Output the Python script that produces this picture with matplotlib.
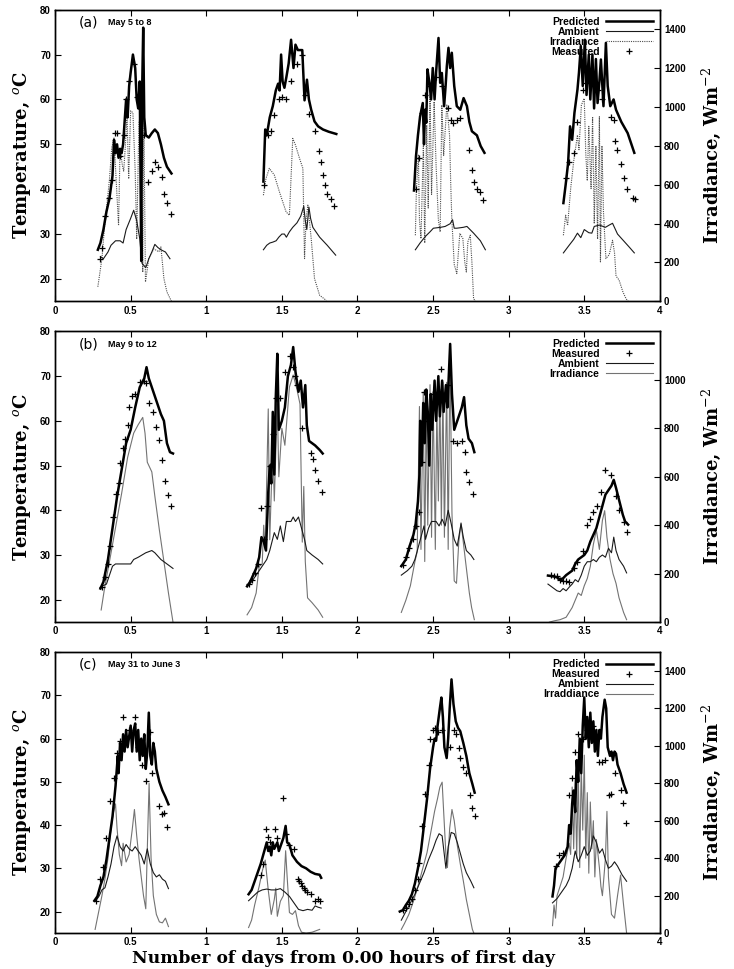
import numpy as np
import matplotlib.pyplot as plt

plt.rcParams['mathtext.fontset'] = 'dejavuserif'

# ---------------- panel (a) May 5 to 8 ----------------
a_pred = [
    [(0.283, 26.5), (0.30, 28), (0.32, 31), (0.34, 35), (0.36, 38), (0.38, 43), (0.39, 51), (0.40, 48),
     (0.41, 50), (0.42, 47), (0.43, 49), (0.44, 48), (0.45, 50), (0.46, 55), (0.47, 60), (0.48, 56),
     (0.49, 63), (0.50, 66), (0.515, 70), (0.53, 67), (0.54, 60), (0.55, 58), (0.56, 64), (0.57, 24),
     (0.575, 60), (0.583, 76), (0.59, 56), (0.60, 52), (0.62, 51.5), (0.64, 52.5), (0.66, 53.3),
     (0.68, 52.5), (0.70, 50), (0.72, 47), (0.74, 45), (0.77, 43.5)],
    [(1.378, 41.7), (1.39, 53.3), (1.40, 52), (1.42, 56), (1.44, 58.5), (1.46, 62), (1.475, 63.5),
     (1.485, 62), (1.495, 70), (1.505, 64), (1.517, 62.6), (1.53, 65), (1.545, 68), (1.561, 73.3),
     (1.577, 67), (1.59, 72.2), (1.606, 71), (1.62, 71), (1.635, 71), (1.65, 59.8), (1.666, 64.4),
     (1.679, 60), (1.694, 57.7), (1.716, 55.1), (1.74, 54), (1.772, 53.3), (1.81, 52.8), (1.86, 52.3)],
    [(2.374, 39.7), (2.387, 47.3), (2.40, 52), (2.414, 56.2), (2.432, 59.2), (2.44, 50), (2.447, 57.7),
     (2.455, 54.8), (2.463, 66.7), (2.476, 63.7), (2.487, 60), (2.498, 67), (2.51, 60), (2.52, 66),
     (2.536, 73.7), (2.547, 63.7), (2.558, 65.9), (2.573, 58.5), (2.583, 63), (2.591, 67.4),
     (2.602, 71.5), (2.613, 67), (2.624, 70.4), (2.64, 63), (2.657, 58.5), (2.68, 57.7), (2.702, 60.3),
     (2.724, 58.5), (2.74, 55), (2.757, 52.9), (2.79, 52), (2.815, 49.6), (2.84, 48.1)],
    [(3.362, 36.9), (3.377, 41), (3.393, 45.8), (3.406, 54), (3.42, 51), (3.435, 57), (3.455, 62.2),
     (3.465, 66), (3.477, 71.9), (3.49, 63), (3.504, 73.3), (3.515, 61), (3.53, 70), (3.54, 60),
     (3.554, 70), (3.565, 58), (3.577, 69), (3.588, 59.2), (3.60, 64), (3.61, 68.9), (3.627, 58.5),
     (3.643, 72.6), (3.655, 63), (3.672, 58.5), (3.694, 60), (3.71, 57.7), (3.745, 55), (3.787, 52.5),
     (3.831, 48.1)],
]
a_amb = [
    [(0.30, 25.0), (0.32, 24.5), (0.35, 26), (0.37, 27.5), (0.40, 28.5), (0.43, 28.5), (0.45, 28),
     (0.47, 31), (0.50, 33.5), (0.52, 35.3), (0.54, 33), (0.56, 29), (0.575, 23.5), (0.60, 22.5),
     (0.62, 24.5), (0.64, 26), (0.66, 27.7), (0.68, 27), (0.70, 26.5), (0.73, 26), (0.76, 24.5)],
    [(1.378, 26.5), (1.40, 27.5), (1.42, 28), (1.44, 28.2), (1.462, 28.5), (1.48, 29.3), (1.50, 30),
     (1.517, 30), (1.53, 29.3), (1.55, 30.5), (1.572, 31.5), (1.60, 32.5), (1.625, 34), (1.645, 36.2),
     (1.655, 33), (1.665, 31), (1.679, 36), (1.69, 33.5), (1.705, 31.5), (1.75, 29.3), (1.80, 27.5),
     (1.856, 25.3)],
    [(2.383, 26.5), (2.414, 28), (2.45, 29.5), (2.48, 30.5), (2.502, 31.3), (2.55, 31.5), (2.58, 31.7),
     (2.613, 32.3), (2.629, 33.2), (2.64, 31.3), (2.657, 31.3), (2.70, 31.5), (2.724, 31.7),
     (2.768, 30.2), (2.813, 28.5), (2.846, 26.5)],
    [(3.362, 25.8), (3.40, 27.5), (3.43, 28.8), (3.455, 30.2), (3.477, 29.2), (3.50, 31), (3.53, 30.3),
     (3.55, 30.2), (3.566, 31.7), (3.60, 32), (3.64, 31.5), (3.665, 32), (3.687, 32.4), (3.72, 30),
     (3.76, 28.5), (3.80, 27), (3.831, 25.8)],
]
a_irr = [
    [(0.283, 75), (0.31, 220), (0.328, 390), (0.343, 495), (0.36, 630), (0.375, 790), (0.39, 840),
     (0.40, 685), (0.42, 390), (0.43, 790), (0.445, 700), (0.454, 670), (0.465, 800), (0.476, 960),
     (0.487, 630), (0.50, 980), (0.515, 970), (0.53, 670), (0.54, 320), (0.555, 920), (0.565, 960),
     (0.572, 600), (0.58, 150), (0.587, 960), (0.598, 100), (0.62, 220), (0.653, 270), (0.687, 255),
     (0.70, 280), (0.72, 117), (0.74, 48), (0.77, 0)],
    [(1.378, 546), (1.395, 632), (1.417, 684), (1.45, 650), (1.484, 563), (1.528, 460), (1.55, 443),
     (1.572, 838), (1.59, 804), (1.617, 735), (1.639, 684), (1.65, 220), (1.66, 420), (1.672, 495),
     (1.694, 323), (1.716, 117), (1.75, 31), (1.794, 5)],
    [(2.383, 340), (2.39, 580), (2.403, 752), (2.41, 420), (2.42, 323), (2.436, 804), (2.445, 300),
     (2.458, 907), (2.468, 480), (2.48, 1062), (2.49, 550), (2.507, 1027), (2.52, 700), (2.535, 420),
     (2.547, 357), (2.558, 1010), (2.57, 750), (2.591, 1010), (2.609, 855), (2.617, 600), (2.624, 426),
     (2.64, 190), (2.657, 143), (2.677, 350), (2.697, 323), (2.71, 200), (2.72, 151), (2.73, 306),
     (2.746, 340), (2.757, 200), (2.768, 14), (2.78, 0)],
    [(3.362, 340), (3.377, 443), (3.39, 390), (3.41, 580), (3.43, 720), (3.455, 855), (3.465, 780),
     (3.481, 1010), (3.50, 1044), (3.51, 760), (3.52, 620), (3.53, 900), (3.545, 580), (3.555, 950),
     (3.566, 400), (3.577, 800), (3.588, 320), (3.60, 950), (3.607, 203), (3.617, 800), (3.627, 460),
     (3.643, 220), (3.665, 240), (3.687, 314), (3.70, 250), (3.71, 130), (3.73, 110), (3.755, 50),
     (3.776, 14), (3.79, 0)],
]
a_meas = [
    [(0.297, 24.5), (0.31, 27), (0.328, 34), (0.354, 38), (0.377, 42), (0.394, 52.6), (0.41, 52.6),
     (0.43, 47.3), (0.455, 52), (0.47, 60), (0.49, 64), (0.52, 68), (0.545, 60.5), (0.59, 52),
     (0.613, 41.5), (0.64, 44), (0.66, 46), (0.68, 44.9), (0.706, 42.7), (0.72, 39), (0.743, 36.9),
     (0.77, 34.4)],
    [(1.385, 41), (1.41, 52), (1.43, 53), (1.445, 56.5), (1.48, 60), (1.50, 60.5), (1.53, 60),
     (1.558, 64), (1.60, 68), (1.636, 70), (1.655, 61), (1.68, 56.8), (1.72, 53), (1.745, 48.6),
     (1.757, 46), (1.77, 43.2), (1.785, 41), (1.80, 39), (1.822, 37.7), (1.847, 36.2)],
    [(2.39, 40), (2.405, 47), (2.425, 57), (2.45, 61), (2.48, 63), (2.52, 65), (2.56, 63), (2.60, 58),
     (2.62, 55.5), (2.635, 54.8), (2.66, 55.5), (2.68, 55.8), (2.735, 48.8), (2.757, 44.3),
     (2.773, 41.7), (2.79, 40), (2.81, 39.3), (2.83, 37.6)],
    [(3.38, 42.6), (3.40, 46), (3.43, 48), (3.45, 55), (3.49, 62), (3.51, 63.6), (3.55, 64), (3.59, 62),
     (3.62, 60), (3.676, 56), (3.694, 55.5), (3.703, 50.7), (3.716, 48.8), (3.743, 45.6),
     (3.765, 42.6), (3.783, 40), (3.82, 38), (3.836, 37.8)],
]

# ---------------- panel (b) May 9 to 12 ----------------
b_pred = [
    [(0.30, 22.5), (0.32, 24), (0.35, 29), (0.38, 36), (0.41, 43), (0.44, 49), (0.47, 55), (0.50, 58),
     (0.53, 63), (0.56, 67.5), (0.59, 69.5), (0.605, 72), (0.62, 69.5), (0.65, 66.5), (0.68, 63.5),
     (0.70, 61.5), (0.72, 60), (0.74, 55), (0.76, 53), (0.78, 52.7)],
    [(1.27, 23), (1.29, 24), (1.31, 25.5), (1.33, 27), (1.35, 29.5), (1.365, 34), (1.38, 33),
     (1.395, 31), (1.41, 44), (1.42, 50), (1.43, 46), (1.44, 62), (1.45, 48), (1.46, 65.5), (1.47, 75),
     (1.48, 58), (1.50, 60), (1.52, 63), (1.54, 70), (1.56, 72.5), (1.575, 76.5), (1.59, 71),
     (1.61, 66.5), (1.625, 69), (1.64, 63), (1.655, 68), (1.665, 59), (1.68, 55.5), (1.70, 55),
     (1.72, 54.5), (1.75, 53.5), (1.77, 52.7)],
    [(2.29, 27.5), (2.32, 29), (2.345, 32), (2.37, 34.5), (2.385, 37), (2.40, 42), (2.41, 48),
     (2.415, 60), (2.425, 50), (2.435, 64), (2.445, 55), (2.455, 67), (2.465, 62), (2.475, 50),
     (2.485, 66), (2.495, 58), (2.51, 69), (2.52, 60), (2.535, 70), (2.545, 61), (2.56, 69),
     (2.57, 62), (2.585, 68), (2.595, 63), (2.613, 77.2), (2.625, 66), (2.64, 58), (2.66, 60),
     (2.69, 63), (2.705, 65.3), (2.72, 59), (2.735, 56), (2.757, 55), (2.773, 53)],
    [(3.26, 25.4), (3.28, 25.3), (3.30, 25.2), (3.32, 25), (3.34, 24.5), (3.36, 24.8), (3.38, 25.5),
     (3.40, 26), (3.42, 26.5), (3.44, 28), (3.46, 29), (3.48, 29.5), (3.50, 30), (3.52, 31),
     (3.54, 33), (3.56, 34.5), (3.58, 36), (3.60, 38.5), (3.62, 41), (3.64, 43.5), (3.66, 44.5),
     (3.68, 45.5), (3.695, 46.8), (3.71, 45), (3.725, 43), (3.74, 41), (3.755, 39), (3.77, 37.5),
     (3.79, 36.8)],
]
b_amb = [
    [(0.31, 23), (0.34, 23.5), (0.36, 25.5), (0.38, 27.5), (0.40, 28), (0.45, 28), (0.50, 28),
     (0.52, 29), (0.55, 29.5), (0.60, 30.5), (0.64, 31), (0.66, 30.5), (0.70, 29), (0.74, 28),
     (0.78, 27)],
    [(1.27, 23), (1.30, 24), (1.33, 25.5), (1.35, 26.5), (1.38, 28), (1.40, 29), (1.42, 31), (1.45, 35),
     (1.47, 33.5), (1.49, 36.5), (1.51, 33), (1.53, 37.5), (1.56, 37.5), (1.575, 38.5), (1.59, 37.5),
     (1.61, 38.5), (1.63, 36), (1.65, 33.5), (1.665, 31), (1.70, 30), (1.74, 29), (1.77, 28)],
    [(2.29, 25.5), (2.33, 26.5), (2.36, 27.5), (2.38, 29), (2.40, 31.5), (2.42, 34), (2.44, 36.5),
     (2.45, 33.5), (2.47, 36), (2.49, 37.5), (2.52, 37.5), (2.54, 36.5), (2.56, 38), (2.58, 36.5),
     (2.60, 40), (2.62, 37), (2.64, 33.5), (2.66, 32), (2.685, 37), (2.70, 34), (2.72, 31),
     (2.75, 30), (2.77, 29)],
    [(3.26, 23.5), (3.28, 23), (3.30, 22.5), (3.32, 22), (3.34, 21.8), (3.36, 22.5), (3.38, 22),
     (3.40, 22.8), (3.42, 23.5), (3.44, 24.5), (3.46, 24), (3.48, 25.5), (3.50, 27.5), (3.52, 28.5),
     (3.54, 28.5), (3.56, 29), (3.58, 28.5), (3.60, 29.5), (3.62, 30), (3.64, 29.5), (3.66, 31.5),
     (3.68, 30.5), (3.695, 34), (3.71, 31), (3.73, 29), (3.76, 27.5), (3.78, 26)],
]
b_irr = [
    [(0.305, 50), (0.33, 150), (0.36, 250), (0.40, 390), (0.44, 530), (0.48, 680), (0.52, 780),
     (0.55, 815), (0.58, 845), (0.595, 780), (0.61, 660), (0.625, 640), (0.64, 620), (0.66, 520),
     (0.69, 380), (0.72, 250), (0.75, 120), (0.78, 0)],
    [(1.27, 30), (1.30, 60), (1.33, 120), (1.35, 230), (1.37, 240), (1.38, 400), (1.39, 300),
     (1.41, 880), (1.42, 340), (1.44, 740), (1.45, 500), (1.47, 900), (1.48, 600), (1.50, 800),
     (1.52, 730), (1.55, 970), (1.575, 1020), (1.60, 960), (1.62, 900), (1.635, 330), (1.645, 560),
     (1.655, 250), (1.67, 100), (1.70, 80), (1.74, 50), (1.77, 20)],
    [(2.29, 40), (2.32, 90), (2.35, 150), (2.38, 250), (2.395, 290), (2.41, 890), (2.42, 300),
     (2.435, 950), (2.445, 250), (2.455, 920), (2.465, 400), (2.48, 980), (2.49, 350), (2.50, 950),
     (2.515, 300), (2.525, 900), (2.535, 500), (2.545, 960), (2.555, 400), (2.565, 990), (2.575, 350),
     (2.59, 990), (2.60, 300), (2.612, 1110), (2.625, 450), (2.64, 170), (2.655, 160), (2.67, 330),
     (2.685, 410), (2.70, 330), (2.715, 250), (2.74, 120), (2.755, 60), (2.773, 10)],
    [(3.27, 0), (3.30, 5), (3.34, 10), (3.38, 20), (3.42, 60), (3.44, 90), (3.46, 120), (3.48, 110),
     (3.50, 150), (3.52, 180), (3.54, 230), (3.56, 320), (3.58, 380), (3.60, 300), (3.62, 420),
     (3.635, 460), (3.65, 350), (3.67, 260), (3.69, 200), (3.71, 160), (3.73, 100), (3.76, 40),
     (3.78, 10)],
]
b_meas = [
    [(0.31, 22.8), (0.33, 25), (0.35, 28), (0.365, 32), (0.38, 38.4), (0.40, 43.7), (0.42, 46),
     (0.43, 50.5), (0.45, 54), (0.465, 56), (0.48, 59), (0.49, 63), (0.51, 65.5), (0.53, 66),
     (0.56, 68.7), (0.585, 69), (0.60, 68.5), (0.62, 64), (0.645, 62), (0.67, 58.7), (0.69, 55.8),
     (0.71, 51.2), (0.73, 46.6), (0.75, 43.5), (0.77, 41)],
    [(1.28, 23.5), (1.30, 24.5), (1.32, 26), (1.34, 28), (1.363, 40.5), (1.38, 33.5), (1.40, 41),
     (1.42, 50), (1.44, 57), (1.46, 65), (1.485, 65), (1.52, 71), (1.555, 74.5), (1.575, 72),
     (1.59, 70), (1.60, 68), (1.63, 58.5), (1.69, 52.8), (1.705, 51.5), (1.72, 48.9), (1.738, 46.5),
     (1.765, 44.2)],
    [(2.30, 27.7), (2.32, 29.5), (2.34, 31.5), (2.365, 33.6), (2.39, 36.5), (2.41, 39.6), (2.425, 50.8),
     (2.44, 66.5), (2.465, 60), (2.50, 66), (2.55, 71.5), (2.60, 68), (2.635, 55.5), (2.66, 55),
     (2.69, 55.6), (2.71, 53), (2.72, 48.5), (2.735, 46.3), (2.762, 43.7)],
    [(3.28, 25.5), (3.30, 25.3), (3.32, 25.2), (3.34, 24.5), (3.36, 24.3), (3.38, 24.3), (3.40, 24),
     (3.43, 27), (3.455, 28.4), (3.49, 31), (3.52, 36.6), (3.54, 38), (3.56, 39.7), (3.585, 41),
     (3.61, 44), (3.635, 48.9), (3.68, 48), (3.71, 43.3), (3.73, 40), (3.76, 37.3), (3.785, 35.1)],
]

# ---------------- panel (c) May 31 to June 3 ----------------
c_pred = [
    [(0.26, 22.5), (0.28, 23.5), (0.30, 26), (0.32, 28), (0.34, 32), (0.36, 37), (0.38, 42), (0.40, 49),
     (0.415, 56), (0.42, 52), (0.43, 59), (0.44, 55), (0.45, 61), (0.46, 57), (0.47, 62), (0.48, 58),
     (0.50, 63), (0.51, 57), (0.52, 62), (0.53, 63.5), (0.54, 57), (0.55, 62), (0.56, 55), (0.57, 60),
     (0.58, 56), (0.59, 61), (0.60, 53), (0.61, 57), (0.62, 66), (0.63, 56), (0.64, 54), (0.65, 59),
     (0.66, 57), (0.67, 53), (0.69, 50), (0.71, 48), (0.73, 46.5), (0.75, 44.8)],
    [(1.28, 24), (1.30, 25), (1.32, 27), (1.34, 29), (1.36, 31), (1.38, 33.5), (1.40, 36), (1.41, 34),
     (1.42, 35), (1.43, 33), (1.44, 36), (1.45, 34.5), (1.47, 36), (1.48, 34), (1.50, 36), (1.51, 37),
     (1.525, 39.8), (1.535, 36), (1.55, 35.5), (1.57, 33), (1.60, 31.5), (1.63, 30.5), (1.66, 30),
     (1.69, 29.2), (1.72, 28.7), (1.75, 28.5), (1.76, 27.8)],
    [(2.28, 20), (2.30, 20.3), (2.32, 21.5), (2.34, 22.5), (2.36, 24), (2.38, 26.5), (2.40, 30),
     (2.42, 34), (2.44, 40), (2.46, 46), (2.48, 53), (2.50, 58), (2.51, 60), (2.52, 59.5), (2.53, 63),
     (2.545, 67), (2.555, 69.5), (2.565, 65), (2.575, 58), (2.59, 55.5), (2.60, 60), (2.61, 67),
     (2.622, 73.7), (2.635, 68), (2.65, 64), (2.665, 62.5), (2.68, 61.7), (2.70, 59), (2.72, 56),
     (2.74, 52), (2.76, 49.5), (2.775, 47.5)],
    [(3.29, 23.5), (3.30, 26), (3.31, 30), (3.33, 31), (3.35, 32), (3.37, 33), (3.39, 35), (3.40, 40),
     (3.41, 38), (3.42, 45), (3.43, 48), (3.44, 43), (3.45, 55), (3.46, 50), (3.47, 60), (3.48, 52),
     (3.49, 63), (3.50, 69.5), (3.51, 60), (3.52, 65), (3.53, 58), (3.54, 66), (3.55, 59), (3.56, 64),
     (3.57, 57), (3.58, 62), (3.59, 56), (3.60, 62), (3.61, 60), (3.62, 65), (3.635, 69), (3.645, 67),
     (3.655, 58), (3.67, 56), (3.68, 57), (3.69, 55), (3.70, 57), (3.71, 56.5), (3.72, 54),
     (3.74, 52), (3.76, 49.5), (3.78, 47.5)],
]
c_amb = [
    [(0.27, 22.5), (0.29, 23.5), (0.31, 25), (0.33, 25.5), (0.35, 28), (0.37, 31), (0.39, 35),
     (0.41, 37.5), (0.43, 35), (0.45, 34), (0.47, 35.5), (0.49, 34.5), (0.51, 34), (0.53, 35),
     (0.55, 34), (0.57, 33), (0.59, 31), (0.61, 34.5), (0.63, 31), (0.65, 29), (0.67, 28), (0.69, 28.5),
     (0.71, 27.5), (0.73, 27), (0.75, 25.3)],
    [(1.28, 22.5), (1.31, 23.5), (1.34, 24.5), (1.37, 25), (1.40, 25.2), (1.43, 25), (1.46, 25),
     (1.49, 25.3), (1.52, 24.5), (1.55, 23.5), (1.58, 22), (1.61, 20.5), (1.64, 20.2), (1.67, 20.5),
     (1.70, 20.3), (1.72, 21.3), (1.74, 21), (1.76, 20.8)],
    [(2.29, 18), (2.32, 20), (2.35, 22), (2.38, 24), (2.41, 26.5), (2.44, 29), (2.47, 32), (2.50, 34.5),
     (2.52, 36.5), (2.54, 38), (2.56, 37.5), (2.575, 33), (2.585, 30), (2.60, 35), (2.62, 38.3),
     (2.64, 38), (2.66, 36), (2.68, 33.5), (2.70, 31), (2.72, 29), (2.75, 27), (2.77, 25.5)],
    [(3.29, 22), (3.32, 23), (3.35, 24.5), (3.38, 26), (3.40, 27.5), (3.42, 30), (3.44, 34),
     (3.46, 31.5), (3.48, 33), (3.50, 35), (3.52, 33), (3.54, 34), (3.56, 37.5), (3.58, 36),
     (3.60, 33.5), (3.62, 34.5), (3.64, 32), (3.66, 30), (3.68, 30.5), (3.70, 31.5), (3.72, 30.5),
     (3.75, 28.5), (3.78, 27)],
]
c_irr = [
    [(0.265, 20), (0.285, 100), (0.31, 200), (0.33, 290), (0.35, 400), (0.37, 560), (0.385, 640),
     (0.40, 690), (0.41, 560), (0.425, 420), (0.44, 360), (0.45, 480), (0.47, 380), (0.49, 420),
     (0.51, 550), (0.525, 660), (0.54, 520), (0.555, 400), (0.57, 300), (0.585, 200), (0.60, 130),
     (0.615, 600), (0.622, 800), (0.635, 400), (0.65, 200), (0.67, 100), (0.69, 60), (0.71, 55),
     (0.73, 80), (0.75, 35)],
    [(1.28, 30), (1.30, 70), (1.32, 150), (1.35, 250), (1.37, 330), (1.39, 390), (1.41, 230),
     (1.43, 100), (1.45, 180), (1.46, 240), (1.47, 90), (1.49, 170), (1.51, 200), (1.525, 440),
     (1.535, 300), (1.55, 110), (1.57, 100), (1.59, 120), (1.61, 40), (1.63, 5), (1.66, 0),
     (1.70, 5), (1.75, 20)],
    [(2.29, 20), (2.31, 50), (2.34, 100), (2.37, 170), (2.40, 250), (2.43, 340), (2.46, 430),
     (2.49, 560), (2.51, 650), (2.53, 720), (2.545, 780), (2.56, 806), (2.57, 650), (2.585, 420),
     (2.595, 350), (2.61, 560), (2.625, 660), (2.64, 600), (2.66, 470), (2.68, 370), (2.70, 280),
     (2.72, 180), (2.74, 100), (2.76, 20), (2.77, 0)],
    [(3.29, 40), (3.30, 150), (3.31, 80), (3.32, 200), (3.34, 250), (3.36, 300), (3.38, 400),
     (3.40, 480), (3.41, 420), (3.42, 780), (3.43, 450), (3.44, 820), (3.45, 400), (3.46, 880),
     (3.47, 350), (3.48, 900), (3.49, 550), (3.50, 950), (3.51, 400), (3.52, 750), (3.53, 320),
     (3.54, 700), (3.55, 450), (3.56, 600), (3.57, 300), (3.58, 500), (3.60, 350), (3.61, 250),
     (3.62, 200), (3.64, 400), (3.65, 650), (3.66, 300), (3.68, 100), (3.70, 80), (3.72, 200),
     (3.74, 310), (3.76, 150), (3.78, 0)],
]
c_meas = [
    [(0.27, 22.5), (0.30, 27.5), (0.32, 30.2), (0.34, 37), (0.365, 45.6), (0.39, 51), (0.41, 56.7),
     (0.43, 59.5), (0.45, 65), (0.47, 60), (0.49, 62), (0.53, 65), (0.55, 58), (0.575, 54),
     (0.60, 50.2), (0.625, 61.6), (0.64, 52), (0.69, 44.4), (0.705, 42.5), (0.72, 42.8), (0.74, 39.6)],
    [(1.36, 28.5), (1.375, 31), (1.395, 39), (1.41, 37.3), (1.42, 36), (1.455, 39), (1.47, 37),
     (1.51, 46.3), (1.53, 38), (1.55, 35.5), (1.58, 34.5), (1.605, 27.5), (1.615, 27), (1.625, 26.5),
     (1.635, 26), (1.645, 25.5), (1.655, 25), (1.665, 24.6), (1.69, 24), (1.72, 22.5), (1.74, 23),
     (1.755, 22.5)],
    [(2.30, 20.3), (2.32, 20.8), (2.34, 21.8), (2.36, 23), (2.38, 25), (2.40, 27.5), (2.41, 31.3),
     (2.43, 39.7), (2.45, 47.1), (2.47, 54), (2.48, 60), (2.50, 62), (2.51, 62.5), (2.53, 61.5),
     (2.56, 62), (2.61, 58), (2.64, 62), (2.655, 61), (2.67, 57.8), (2.68, 55.5), (2.70, 53.5),
     (2.72, 52), (2.745, 47), (2.76, 44), (2.775, 42)],
    [(3.31, 30.5), (3.33, 33), (3.36, 33.5), (3.40, 47), (3.42, 51), (3.44, 57), (3.46, 61), (3.49, 60),
     (3.52, 62), (3.555, 63), (3.58, 60), (3.60, 54.5), (3.62, 54.5), (3.64, 55), (3.665, 47),
     (3.675, 47.3), (3.70, 52), (3.74, 48), (3.755, 45), (3.775, 40.5)],
]

panels = [
    ('(a)', 'May 5 to 8', a_pred, a_amb, a_irr, a_meas, 1500, (0, (1, 1)),
     ['Predicted', 'Ambient', 'Irradiance', 'Measured']),
    ('(b)', 'May 9 to 12', b_pred, b_amb, b_irr, b_meas, 1200, '-',
     ['Predicted', 'Measured', 'Ambient', 'Irradiance']),
    ('(c)', 'May 31 to June 3', c_pred, c_amb, c_irr, c_meas, 1500, '-',
     ['Predicted', 'Measured', 'Ambient', 'Irraddiance']),
]
boxes = [[0.075, 0.689, 0.824, 0.301],
         [0.075, 0.358, 0.824, 0.300],
         [0.075, 0.037, 0.824, 0.290]]

tickfont = dict(family='Liberation Sans', size=7, weight='bold')
labfont = dict(family='DejaVu Serif', size=13, weight='bold')

fig = plt.figure(figsize=(7.34, 9.69), dpi=100)

for box, (tag, title, pred, amb, irr, meas, irr_top, irr_ls, order) in zip(boxes, panels):
    ax = fig.add_axes(box)
    ax2 = ax.twinx()
    ax.set_zorder(ax2.get_zorder() + 1)
    ax.patch.set_visible(False)

    irr_col = '0.3' if irr_ls != '-' else '0.45'
    for day in irr:
        d = np.array(day)
        l_irr, = ax2.plot(d[:, 0], d[:, 1], color=irr_col, lw=0.8, ls=irr_ls)
    for day in amb:
        d = np.array(day)
        l_amb, = ax.plot(d[:, 0], d[:, 1], color='0.1', lw=0.8)
    for day in pred:
        d = np.array(day)
        l_pred, = ax.plot(d[:, 0], d[:, 1], color='black', lw=1.8)
    for day in meas:
        d = np.array(day)
        l_meas, = ax.plot(d[:, 0], d[:, 1], ls='', marker='+', ms=5, mew=0.9, color='black')

    ax.set_xlim(0, 4)
    ax.set_ylim(15, 80)
    ax2.set_ylim(0, irr_top)
    ax.set_xticks(np.arange(0, 4.01, 0.5))
    ax.set_xticklabels(['0', '0.5', '1', '1.5', '2', '2.5', '3', '3.5', '4'], fontdict=tickfont)
    ax.set_yticks(np.arange(20, 81, 10))
    ax.set_yticklabels([str(v) for v in range(20, 81, 10)], fontdict=tickfont)
    irr_ticks = np.arange(0, irr_top - 99, 200)
    ax2.set_yticks(irr_ticks)
    ax2.set_yticklabels([str(int(v)) for v in irr_ticks], fontdict=tickfont)
    ax.tick_params(axis='x', direction='in', top=True, length=4, width=0.8, pad=3)
    ax.tick_params(axis='y', direction='in', length=4, width=0.8, pad=3)
    ax2.tick_params(axis='y', direction='in', length=4, width=0.8, pad=3)
    for a in (ax, ax2):
        for s in a.spines.values():
            s.set_linewidth(1.0)

    ax.set_ylabel('Temperature, $^o$C', fontdict=labfont, labelpad=5)
    ax2.set_ylabel('Irradiance, Wm$^{-2}$', fontdict=labfont, labelpad=10)

    ax.text(0.04, 0.955, tag, transform=ax.transAxes, fontsize=10, family='DejaVu Sans',
            va='center', ha='left')
    ax.text(0.087, 0.955, title, transform=ax.transAxes, fontsize=6.5, family='Liberation Sans',
            weight='bold', va='center', ha='left')

    handles = {'Predicted': l_pred, 'Ambient': l_amb, 'Irradiance': l_irr,
               'Irraddiance': l_irr, 'Measured': l_meas}
    ax.legend([handles[k] for k in order], order, loc='upper right', frameon=False,
              markerfirst=False, handlelength=4.5, labelspacing=0.0, handletextpad=0.6,
              borderaxespad=0.3, prop=dict(family='Liberation Sans', size=7.5, weight='bold'))

fig.text(0.468, 0.011, 'Number of days from 0.00 hours of first day', ha='center', va='center',
         family='DejaVu Serif', size=12.3, weight='bold')

fig.savefig('out.png', dpi=100)
